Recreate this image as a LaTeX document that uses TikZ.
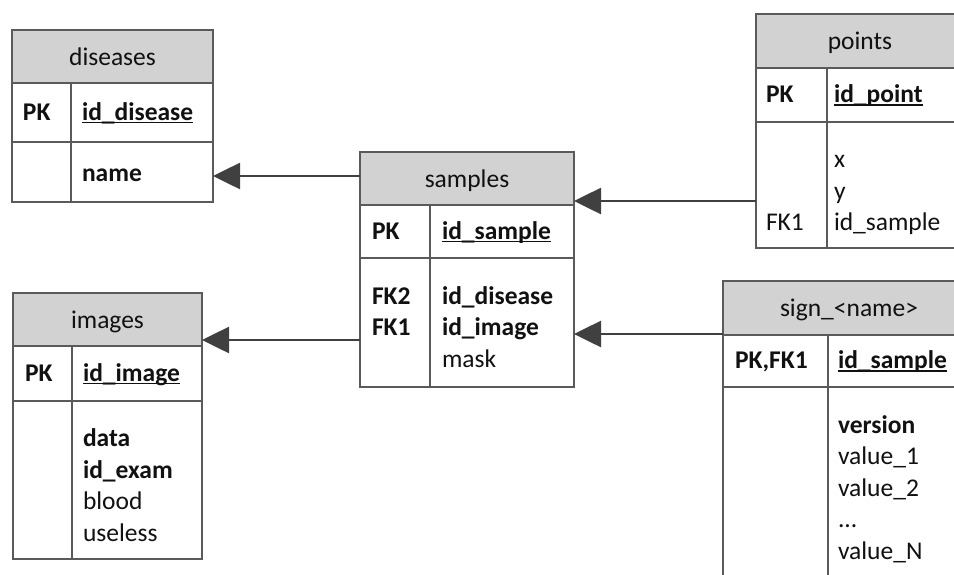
\documentclass[tikz,border=0pt]{standalone}
\usepackage{fontspec}
\setmainfont{Carlito}
\usetikzlibrary{arrows.meta}
\definecolor{bordc}{HTML}{5A5A5A}
\definecolor{hdrc}{HTML}{D2D2D2}
\definecolor{arrc}{HTML}{404040}
\definecolor{txtc}{HTML}{111111}
\newcommand\pkul[1]{\setbox0\hbox{\bfseries #1}\rlap{\rule[-3.4pt]{\wd0}{1.7pt}}\box0}
\begin{document}
\begin{tikzpicture}[x=1pt,y=-1pt,
  box/.style={draw=bordc, line width=1.8pt, fill=white, inner sep=0pt, outer sep=0pt, anchor=north west},
  hbox/.style={box, fill=hdrc},
  lbl/.style={anchor=base west, inner sep=0pt, outer sep=0pt, text=txtc, font=\fontsize{25.5}{31.5}\selectfont},
  ttl/.style={lbl, anchor=base},
  coldiv/.style={draw=bordc, line width=1.8pt},
  fk/.style={draw=arrc, line width=2.6pt, -{Triangle[length=27pt,width=26pt]}}
]
\useasboundingbox (0,0) rectangle (954,574);
\clip (0,0) rectangle (954,574);

% ---------- diseases ----------
\node[hbox, minimum width=201pt, minimum height=53pt] (disH) at (12,30) {};
\node[box, minimum width=201pt, minimum height=59pt] (disP) at (12,83) {};
\node[box, minimum width=201pt, minimum height=60pt] (disB) at (12,142) {};
\draw[coldiv] (71,83) -- (71,202);
\node[ttl] (disT) at (112.5,65) {diseases};
\node[lbl] (disPK) at (23,120) {\bfseries PK};
\node[lbl] (disId) at (82,120) {\pkul{id\_disease}};
\node[lbl] (disN) at (82,181) {\bfseries name};

% ---------- samples ----------
\node[hbox, minimum width=214pt, minimum height=53pt] (samH) at (360,152) {};
\node[box, minimum width=214pt, minimum height=53pt] (samP) at (360,205) {};
\node[box, minimum width=214pt, minimum height=129pt] (samB) at (360,258) {};
\draw[coldiv] (430,205) -- (430,387);
\node[ttl] (samT) at (467,187) {samples};
\node[lbl] (samPK) at (372,239) {\bfseries PK};
\node[lbl] (samId) at (442,239) {\pkul{id\_sample}};
\node[lbl] (samF2) at (372,304) {\bfseries FK2};
\node[lbl] (samD) at (442,304) {\bfseries id\_disease};
\node[lbl] (samF1) at (372,335.5) {\bfseries FK1};
\node[lbl] (samI) at (442,335.5) {\bfseries id\_image};
\node[lbl] (samM) at (442,367) {mask};

% ---------- points ----------
\node[hbox, minimum width=208pt, minimum height=54pt] (ptsH) at (756,14) {};
\node[box, minimum width=208pt, minimum height=54pt] (ptsP) at (756,68) {};
\node[box, minimum width=208pt, minimum height=126pt] (ptsB) at (756,122) {};
\draw[coldiv] (827,68) -- (827,248);
\node[ttl] (ptsT) at (860,49.5) {points};
\node[lbl] (ptsPK) at (766,102.5) {\bfseries PK};
\node[lbl] (ptsId) at (834,102.5) {\pkul{id\_point}};
\node[lbl] (ptsX) at (834,167.5) {x};
\node[lbl] (ptsY) at (834,199) {y};
\node[lbl] (ptsF1) at (766,230.5) {FK1};
\node[lbl] (ptsS) at (834,230.5) {id\_sample};

% ---------- images ----------
\node[hbox, minimum width=189pt, minimum height=53pt] (imgH) at (13,293) {};
\node[box, minimum width=189pt, minimum height=55pt] (imgP) at (13,346) {};
\node[box, minimum width=189pt, minimum height=158pt] (imgB) at (13,401) {};
\draw[coldiv] (72,346) -- (72,559);
\node[ttl] (imgT) at (107.5,328) {images};
\node[lbl] (imgPK) at (25,381) {\bfseries PK};
\node[lbl] (imgId) at (83,381) {\pkul{id\_image}};
\node[lbl] (imgDa) at (83,446.5) {\bfseries data};
\node[lbl] (imgEx) at (83,478) {\bfseries id\_exam};
\node[lbl] (imgBl) at (83,509.5) {blood};
\node[lbl] (imgUs) at (83,541) {useless};

% ---------- sign_<name> ----------
\node[hbox, minimum width=252pt, minimum height=54pt] (sgnH) at (723,281) {};
\node[box, minimum width=252pt, minimum height=52pt] (sgnP) at (723,335) {};
\node[box, minimum width=252pt, minimum height=213pt] (sgnB) at (723,387) {};
\draw[coldiv] (828,335) -- (828,600);
\node[ttl] (sgnT) at (849,316.5) {sign\_<name>};
\node[lbl] (sgnPK) at (735,368.5) {\bfseries PK,FK1};
\node[lbl] (sgnId) at (838,368.5) {\pkul{id\_sample}};
\node[lbl] (sgnV) at (838,433) {\bfseries version};
\node[lbl] (sgnV1) at (838,464.5) {value\_1};
\node[lbl] (sgnV2) at (838,496) {value\_2};
\node[lbl] (sgnVd) at (838,527.5) {...};
\node[lbl] (sgnVN) at (838,559) {value\_N};

% ---------- connectors ----------
\coordinate (c1) at ([yshift=2.5pt]samH.west);
\draw[fk] (c1) -- (c1 -| disB.east);
\coordinate (c2) at ([yshift=-17.5pt]samB.west);
\draw[fk] (c2) -- (c2 -| imgH.east);
\coordinate (c3) at ([yshift=-16pt]ptsB.west);
\draw[fk] (c3) -- (c3 -| samH.east);
\coordinate (c4) at ([yshift=-26pt]sgnH.west);
\draw[fk] (c4) -- (c4 -| samB.east);
\end{tikzpicture}
\end{document}
